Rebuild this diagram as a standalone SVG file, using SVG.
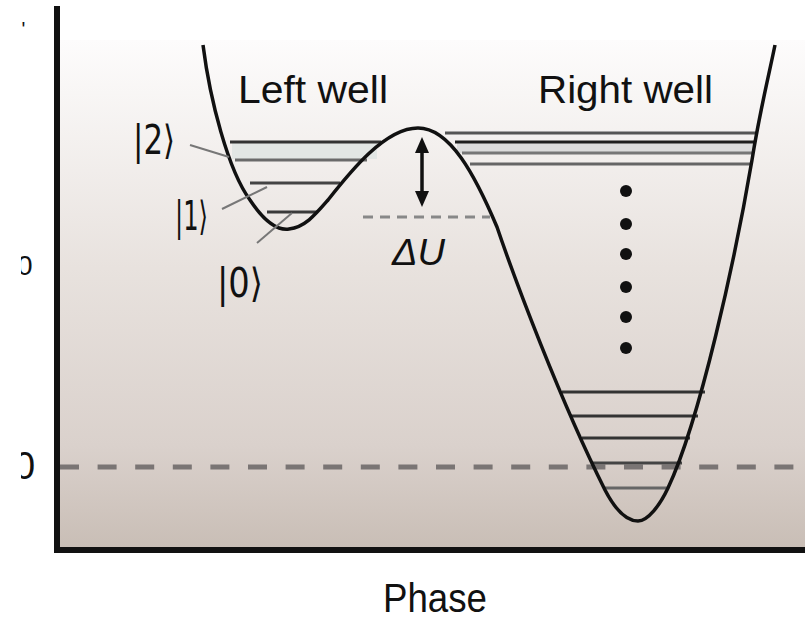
<svg xmlns="http://www.w3.org/2000/svg" width="805" height="622" viewBox="0 0 805 622">
<defs>
<linearGradient id="bg" x1="0" y1="40" x2="0" y2="547" gradientUnits="userSpaceOnUse">
<stop offset="0" stop-color="#fdfcfc"/>
<stop offset="0.45" stop-color="#e8e2de"/>
<stop offset="0.8" stop-color="#dad1cc"/>
<stop offset="1" stop-color="#c9beb6"/>
</linearGradient>
<clipPath id="leftclip"><rect x="21" y="0" width="20" height="622"/></clipPath>
<style>
.lab{font-family:"Liberation Sans",Arial,sans-serif;fill:#111;}
.ket{font-family:"DejaVu Sans","Liberation Sans",sans-serif;fill:#111;}
.lvl{stroke-width:3;fill:none;}
.ptr{stroke:#777;stroke-width:2;fill:none;}
</style>
</defs>
<rect x="0" y="0" width="805" height="622" fill="#ffffff"/>
<rect x="57" y="40" width="748" height="508" fill="url(#bg)"/>
<g id="fragments" clip-path="url(#leftclip)">
<text class="lab" x="21.5" y="36" font-size="20">'</text>
<text class="lab" x="17" y="275" font-size="28">0</text>
<text class="lab" x="14" y="479" font-size="38">0</text>
</g>
<g id="bands">
<rect x="232" y="143" width="145" height="16" fill="#e2e6e4"/>
<rect x="457" y="143" width="296" height="10" fill="#dcdcdc"/>
</g>
<g id="baseline-dash">
<line x1="60" y1="467" x2="805" y2="467" stroke="#7a7574" stroke-width="5" stroke-dasharray="19 18.6"/>
</g>
<g id="levels">
<line class="lvl" x1="230" y1="142" x2="381" y2="142" stroke="#333"/>
<line class="lvl" x1="235" y1="160" x2="367" y2="160" stroke="#6a6a6a"/>
<line class="lvl" x1="250" y1="183" x2="340" y2="183" stroke="#444"/>
<line class="lvl" x1="267" y1="212" x2="317" y2="212" stroke="#3a3a3a"/>
<line class="lvl" x1="445" y1="133" x2="757" y2="133" stroke="#555"/>
<line class="lvl" x1="455" y1="142" x2="755" y2="142" stroke="#1e1e1e"/>
<line class="lvl" x1="462" y1="153" x2="753" y2="153" stroke="#777"/>
<line class="lvl" x1="470" y1="164" x2="751" y2="164" stroke="#666"/>
<line class="lvl" x1="562" y1="392" x2="705" y2="392" stroke="#333"/>
<line class="lvl" x1="570" y1="416" x2="698" y2="416" stroke="#333"/>
<line class="lvl" x1="582" y1="438" x2="690" y2="438" stroke="#333"/>
<line class="lvl" x1="592" y1="463" x2="682" y2="463" stroke="#444"/>
<line class="lvl" x1="603" y1="488" x2="668" y2="488" stroke="#666"/>
</g>
<g id="du-dash">
<line x1="363" y1="217" x2="490" y2="217" stroke="#888" stroke-width="3" stroke-dasharray="10 7"/>
</g>
<g id="potential">
<path d="M203,45 C210,100 228,170 250,200 C262,218 275,231 289,229 C305,227 315,215 328,200 C350,172 385,128 418,128 C450,128 475,175 497,227 C515,280 560,400 605,490 C618,515 630,521 638,521 C648,521 660,505 668,488 C700,420 735,260 752,160 C760,110 770,70 775,45" fill="none" stroke="#111" stroke-width="3.5" stroke-linejoin="round"/>
</g>
<g id="pointers">
<line class="ptr" x1="190" y1="145" x2="229" y2="157"/>
<line class="ptr" x1="222" y1="209" x2="267" y2="187"/>
<line class="ptr" x1="257" y1="243" x2="292" y2="213"/>
</g>
<g id="arrow">
<line x1="422" y1="148" x2="422" y2="196" stroke="#111" stroke-width="3.5"/>
<polygon points="422,137 415,153 429,153" fill="#111"/>
<polygon points="422,207 415,191 429,191" fill="#111"/>
</g>
<g id="dots" fill="#111">
<circle cx="626" cy="191" r="6"/>
<circle cx="626" cy="224" r="6"/>
<circle cx="626" cy="254" r="6"/>
<circle cx="626" cy="287" r="6"/>
<circle cx="626" cy="317" r="6"/>
<circle cx="626" cy="348" r="6"/>
</g>
<g id="axes">
<line x1="57" y1="6" x2="57" y2="553" stroke="#111" stroke-width="6"/>
<line x1="54" y1="550" x2="805" y2="550" stroke="#111" stroke-width="6"/>
</g>
<g id="label-left-well"><text class="lab" x="238" y="103" font-size="38" textLength="150" lengthAdjust="spacingAndGlyphs">Left well</text></g>
<g id="label-right-well"><text class="lab" x="538" y="103" font-size="38" textLength="175" lengthAdjust="spacingAndGlyphs">Right well</text></g>
<g id="label-ket2"><text class="ket" x="133" y="154" font-size="40" textLength="42" lengthAdjust="spacingAndGlyphs">|2⟩</text></g>
<g id="label-ket1"><text class="ket" x="175" y="230" font-size="40" textLength="33" lengthAdjust="spacingAndGlyphs">|1⟩</text></g>
<g id="label-ket0"><text class="ket" x="217" y="297" font-size="40" textLength="46" lengthAdjust="spacingAndGlyphs">|0⟩</text></g>
<g id="label-du"><text class="lab" x="392" y="265" font-size="37" font-style="italic" textLength="53" lengthAdjust="spacingAndGlyphs">ΔU</text></g>
<g id="label-phase"><text class="lab" x="383" y="612" font-size="40" textLength="104" lengthAdjust="spacingAndGlyphs">Phase</text></g>
</svg>
